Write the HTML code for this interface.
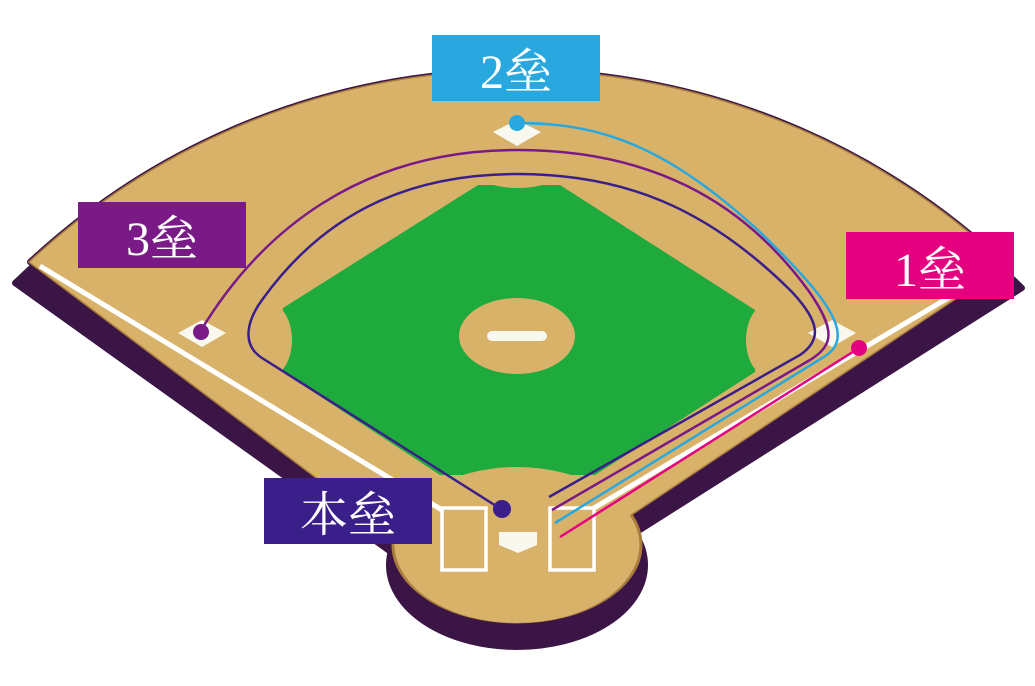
<!DOCTYPE html>
<html><head><meta charset="utf-8"><style>
html,body{margin:0;padding:0;background:#fff;}
svg{display:block}
text{font-family:"Liberation Serif","Noto Serif CJK SC",serif;fill:#fff;font-size:48px;}
</style></head><body>
<svg width="1035" height="686" viewBox="0 0 1035 686" xmlns="http://www.w3.org/2000/svg">
<g fill="#3b1545" stroke="#3b1545" stroke-width="6" stroke-linejoin="round">
<path d="M15,283 A720,720 0 0 1 1022,288 L640,530 L395,555 Z"/>
<path d="M30,262 A713,713 0 0 1 1005,265 L630,515 L400,540 Z"/>
<ellipse cx="517" cy="565" rx="128" ry="82"/>
</g>
<g fill="#d9b26a" stroke="#a87d3e" stroke-width="3">
<path d="M30,262 A713,713 0 0 1 1005,265 L630,515 L400,540 Z"/>
<ellipse cx="517" cy="545" rx="124" ry="77"/>
</g>
<path d="M30,262 A713,713 0 0 1 1005,265 L630,515 L400,540 Z" fill="#d9b26a"/>
<path d="M478,185 L560,185 L755,310 L755,372 L595,475 L440,475 L283,372 L283,308 Z" fill="#1eaa3c"/>
<g fill="#d9b26a">
<ellipse cx="518" cy="168" rx="46" ry="20"/>
<ellipse cx="270" cy="340" rx="22" ry="36"/>
<ellipse cx="768" cy="340" rx="22" ry="36"/>
<ellipse cx="517" cy="545" rx="122" ry="78"/>
<ellipse cx="517" cy="336" rx="58" ry="38"/>
</g>
<g stroke="#fff" stroke-width="5">
<line x1="40" y1="266" x2="442" y2="510"/>
<line x1="995" y1="270" x2="594" y2="508"/>
</g>
<rect x="487" y="331" width="60" height="10" rx="5" fill="#f8f8ee"/>
<g fill="#f8f8ee">
<polygon points="517,120 541,132 517,146 493,132"/>
<polygon points="202,320 226,333 202,347 178,333"/>
<polygon points="832,320 856,333 832,347 808,333"/>
<path d="M499,532 L537,532 L537,545 L518,553 L499,545 Z"/>
</g>
<g fill="none" stroke="#fff" stroke-width="3.5">
<rect x="442" y="508" width="44" height="62"/>
<rect x="550" y="508" width="44" height="62"/>
</g>
<g fill="none" stroke-width="2.5">
<path d="M501,509 L262,358 C242,345 246,322 262,300 C330,205 420,174 517,174 C620,174 705,205 792,292 C820,322 822,340 800,355 L549,497" stroke="#3a1f8a"/>
<path d="M200,332 C260,232 360,150 517,150 C650,150 742,200 808,290 C836,330 834,345 810,360 L552,510" stroke="#7a1a87"/>
<path d="M517,123 C600,123 665,145 760,232 C830,300 858,338 822,358 L555,523" stroke="#29a8e0"/>
<path d="M859,348 L560,537" stroke="#e4007f"/>
</g>
<circle cx="517" cy="123" r="8" fill="#29a8e0"/>
<circle cx="201" cy="332" r="8" fill="#7a1a87"/>
<circle cx="859" cy="348" r="8" fill="#e4007f"/>
<circle cx="502" cy="509" r="9" fill="#3a1f8a"/>
<rect x="432" y="35" width="168" height="66" fill="#29a8e0"/>
<text x="516" y="88" text-anchor="middle">2垒</text>
<rect x="78" y="202" width="168" height="66" fill="#7a1a87"/>
<text x="162" y="255" text-anchor="middle">3垒</text>
<rect x="846" y="232" width="168" height="67" fill="#e4007f"/>
<text x="930" y="286" text-anchor="middle">1垒</text>
<rect x="264" y="478" width="168" height="66" fill="#3a1f8a"/>
<text x="348" y="531" text-anchor="middle">本垒</text>
</svg>
</body></html>
